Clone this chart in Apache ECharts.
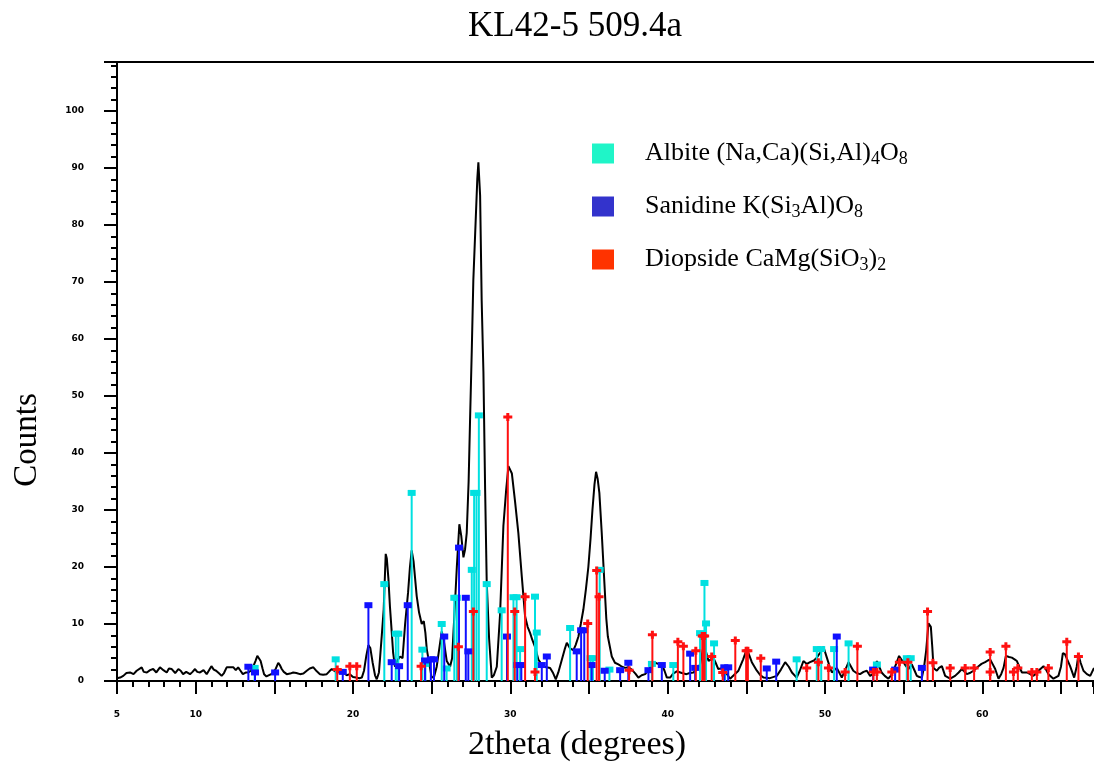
<!DOCTYPE html>
<html>
<head>
<meta charset="utf-8">
<script src="https://cdn.jsdelivr.net/npm/echarts@6/dist/echarts.min.js"></script>
<style>
html,body{margin:0;padding:0;background:#fff;}
#chart{width:1094px;height:764px;}
</style>
</head>
<body>
<div id="chart"></div>
<script>
// ---- Data ----
const titleText = 'KL42-5 509.4a';
const xTitle = '2theta (degrees)';
const yTitle = 'Counts';

// Measured pattern: 2theta positions and counts
const patternX = [5.0,5.2,5.4,5.6,5.83,6.05,6.25,6.57,6.7,6.9,7.1,7.3,7.5,7.73,7.95,8.16,8.3,8.48,8.7,8.9,9.05,9.2,9.4,9.64,9.8,9.96,10.1,10.28,10.5,10.7,10.85,11.0,11.15,11.3,11.5,11.65,11.8,11.97,12.2,12.4,12.55,12.7,12.85,13.0,13.2,13.35,13.5,13.67,13.8,13.92,14.02,14.13,14.25,14.35,14.5,14.62,14.8,14.94,15.1,15.25,15.35,15.47,15.6,15.79,16.0,16.2,16.4,16.63,16.85,17.06,17.25,17.48,17.7,17.9,18.1,18.33,18.5,18.65,18.8,18.97,19.2,19.39,19.6,19.8,20.0,20.2,20.4,20.56,20.7,20.85,20.98,21.1,21.25,21.4,21.51,21.65,21.83,21.95,22.08,22.15,22.25,22.35,22.46,22.55,22.67,22.8,22.99,23.15,23.31,23.5,23.62,23.73,23.85,24.05,24.2,24.37,24.5,24.6,24.69,24.85,25.0,25.15,25.32,25.5,25.64,25.75,25.96,26.17,26.3,26.49,26.6,26.76,26.88,27.02,27.12,27.23,27.35,27.44,27.55,27.65,27.8,27.9,27.97,28.08,28.18,28.29,28.4,28.5,28.65,28.82,28.95,29.14,29.35,29.56,29.73,29.88,29.98,30.1,30.3,30.51,30.73,30.94,31.1,31.26,31.4,31.57,31.79,32.1,32.3,32.53,32.7,32.89,33.05,33.27,33.45,33.59,33.8,34.01,34.15,34.33,34.48,34.64,34.8,34.96,35.1,35.22,35.35,35.45,35.55,35.66,35.81,35.98,36.1,36.2,36.45,36.65,36.87,37.1,37.3,37.5,37.72,37.95,38.14,38.35,38.57,38.8,39.0,39.2,39.4,39.63,39.8,39.95,40.16,40.35,40.58,40.9,41.2,41.4,41.64,41.85,42.06,42.27,42.42,42.6,42.75,42.9,43.05,43.22,43.54,43.75,43.97,44.2,44.5,44.8,45.03,45.15,45.35,45.67,45.9,46.1,46.5,46.94,47.2,47.47,47.7,47.9,48.2,48.4,48.63,48.85,49.05,49.3,49.48,49.7,49.9,50.12,50.3,50.44,50.75,51.07,51.3,51.5,51.8,52.0,52.23,52.45,52.66,52.87,53.08,53.3,53.45,53.6,53.8,54.03,54.2,54.35,54.55,54.71,54.85,54.99,55.15,55.3,55.52,55.7,55.84,56.0,56.16,56.3,56.43,56.58,56.73,56.82,56.9,57.11,57.25,57.43,57.64,57.96,58.27,58.5,58.7,59.02,59.2,59.44,59.76,59.95,60.18,60.35,60.5,60.65,60.82,61.03,61.2,61.35,61.5,61.7,61.88,62.05,62.2,62.35,62.52,62.83,63.05,63.25,63.57,63.89,64.05,64.2,64.52,64.84,65.0,65.12,65.25,65.37,65.58,65.84,66.0,66.11,66.25,66.43,66.65,66.86,67.1];
const patternY = [0.5,0.6,0.9,1.4,1.5,1.2,1.8,2.4,1.6,1.5,1.9,2.1,1.5,2.4,1.9,1.5,2.2,2.1,1.4,2.1,1.8,1.2,1.6,1.2,1.6,2.1,1.6,1.5,1.9,1.2,1.9,2.6,2.0,1.8,1.3,0.9,1.4,2.4,2.4,2.4,1.9,2.4,1.8,1.2,1.5,1.5,1.8,2.6,3.5,4.4,4.0,3.5,2.2,1.2,0.8,0.9,1.2,1.5,2.2,3.2,2.8,2.1,1.6,1.2,1.3,1.5,1.4,1.2,1.3,1.8,2.2,2.4,1.7,1.2,1.1,1.2,1.7,2.1,1.8,1.5,1.6,1.5,1.0,1.2,0.7,0.6,0.5,0.6,1.8,4.5,6.3,5.8,3.2,1.0,0.3,1.5,8.0,12.5,22.3,21.5,18.0,13.0,8.7,5.0,2.5,3.5,4.3,4.0,9.9,15.5,20.0,22.9,21.0,14.9,12.0,10.0,10.5,8.5,5.6,3.0,0.6,0.7,2.5,6.0,8.7,7.5,3.5,2.5,4.0,14.0,20.0,27.5,25.5,21.7,23.0,26.0,35.0,45.7,58.0,70.4,80.9,88.0,91.0,85.2,66.7,54.3,33.4,17.4,7.5,0.6,1.0,2.5,11.8,27.2,33.3,37.7,37.9,36.4,31.5,26.0,18.3,11.3,9.5,8.4,7.2,6.0,3.7,2.5,2.4,2.3,1.5,0.3,1.5,3.7,5.5,6.7,5.7,5.4,6.3,7.8,10.0,12.5,16.0,20.0,25.0,30.0,34.5,36.7,35.5,33.0,26.0,17.2,11.0,7.8,4.3,3.2,2.9,2.5,2.3,2.4,2.0,1.3,0.6,1.0,1.2,2.0,2.9,3.2,3.0,2.9,1.8,0.6,0.6,1.3,1.7,1.4,1.2,1.4,1.5,2.0,2.9,6.0,5.3,3.5,3.8,4.1,3.2,2.1,2.3,1.3,0.4,1.0,1.8,3.8,5.6,4.8,3.3,1.8,1.0,0.6,0.5,0.9,2.0,3.3,2.5,1.5,0.6,1.8,3.5,3.0,3.3,3.6,4.1,5.0,6.0,4.1,2.5,1.5,2.3,0.6,2.0,3.3,1.8,1.4,1.2,1.6,1.8,0.9,1.3,3.5,2.5,1.5,0.9,0.4,1.0,1.8,3.2,4.4,3.8,3.3,2.6,2.1,2.9,1.8,0.9,0.7,0.6,2.5,5.3,10.1,9.5,6.0,2.3,1.8,2.3,2.6,0.9,0.4,0.9,1.5,2.1,1.2,1.4,1.8,2.6,3.0,3.3,3.6,3.8,3.0,2.1,0.4,1.2,2.3,4.4,4.2,4.1,3.8,3.5,2.5,1.5,1.5,1.2,0.9,1.8,2.6,2.0,1.2,0.4,0.9,2.5,4.9,4.7,4.6,2.6,0.6,2.5,4.6,3.2,1.8,1.2,0.9,2.3];

// Reference phase lines (position, intensity)
const albiteX = [13.75,18.9,21.99,22.72,22.88,23.73,24.41,24.6,25.64,25.95,26.44,26.6,27.55,27.7,27.85,28.0,28.5,29.45,30.2,30.4,30.62,31.57,31.68,33.8,35.1,35.25,35.68,36.3,39.0,40.36,42.06,42.34,42.44,42.95,43.65,48.2,49.48,49.76,50.58,51.5,53.3,55.2,55.45];
const albiteY = [2.3,3.8,17.0,8.3,8.3,33.0,5.5,3.0,10.0,2.2,14.6,14.6,19.5,33.0,33.0,46.6,17.0,12.4,14.7,14.7,5.6,14.8,8.5,9.3,4.0,4.0,19.5,2.0,3.0,2.8,8.4,17.2,10.1,6.6,2.3,3.8,5.6,5.6,5.6,6.6,2.9,4.0,4.0];

const sanidineX = [13.35,13.77,15.05,19.35,20.98,22.46,22.93,23.48,24.58,24.95,25.15,25.8,26.74,27.17,27.33,29.79,30.45,30.7,32.0,32.32,34.22,34.5,34.7,35.17,36.0,36.98,37.5,38.78,39.63,41.43,41.75,43.6,43.85,46.3,46.9,50.75,53.06,54.46,56.16];
const sanidineY = [2.5,1.5,1.5,1.6,13.3,3.3,2.6,13.3,3.6,3.8,3.8,7.8,23.4,14.6,5.2,7.8,2.8,2.8,2.8,4.3,5.2,8.9,8.9,2.8,1.8,1.9,3.2,1.9,2.8,4.8,2.3,2.4,2.4,2.2,3.4,7.8,2.0,2.0,2.3];

const diopsideX = [19.0,19.8,20.24,24.33,26.7,27.65,29.84,30.28,30.94,31.57,34.92,35.49,35.64,37.55,39.03,40.65,41.0,41.79,42.2,42.27,42.35,42.8,43.5,44.3,44.99,45.1,45.92,48.84,49.58,50.22,51.28,52.06,53.08,53.3,54.25,54.73,55.27,56.52,56.86,57.96,58.91,59.48,60.5,60.5,61.5,61.98,62.26,63.15,63.47,64.2,65.37,66.11];
const diopsideY = [2.0,2.6,2.6,2.6,6.0,12.2,46.3,12.2,14.8,1.6,10.1,19.4,14.8,1.9,8.1,6.9,6.1,5.3,7.9,7.9,7.9,4.3,1.5,7.1,5.3,5.3,4.0,2.3,3.3,2.3,1.6,6.1,1.6,1.6,1.6,3.3,3.3,12.2,3.2,2.3,2.3,2.3,5.1,1.6,6.1,1.6,2.3,1.6,1.6,2.3,6.9,4.3];

const yTicks = [0,10,20,30,40,50,60,70,80,90,100];
const xLabelTicks = [5,10,20,30,40,50,60];

// ---- Build chart ----
const SERIF = '"Liberation Serif","Times New Roman",serif';
const zip = (a, b) => a.map((v, i) => [v, b[i]]);

const stickColors = { albite: '#00e0e0', sanidine: '#1010ff', diopside: '#ff1010' };
const legendColors = { albite: '#1ff5c8', sanidine: '#3333cc', diopside: '#ff3300' };

function stickRenderer(color, marker) {
  return function (params, api) {
    const x = api.value(0), h = api.value(1);
    const p0 = api.coord([x, 0]);
    const p1 = api.coord([x, h]);
    const children = [{
      type: 'line',
      shape: { x1: p0[0], y1: p0[1], x2: p1[0], y2: p1[1] },
      style: { stroke: color, lineWidth: 2 }
    }];
    if (marker === 'square') {
      children.push({ type: 'rect', shape: { x: p1[0] - 4, y: p1[1] - 3, width: 8, height: 6 }, style: { fill: color } });
    } else {
      const cx = p1[0], cy = p1[1];
      children.push({ type: 'polygon', shape: { points: [
        [cx - 1.5, cy - 4], [cx + 1.5, cy - 4], [cx + 1.5, cy - 1.5], [cx + 4.5, cy - 1.5], [cx + 4.5, cy + 1.5],
        [cx + 1.5, cy + 1.5], [cx + 1.5, cy + 4], [cx - 1.5, cy + 4], [cx - 1.5, cy + 1.5], [cx - 4.5, cy + 1.5],
        [cx - 4.5, cy - 1.5], [cx - 1.5, cy - 1.5]] }, style: { fill: color } });
    }
    return { type: 'group', children };
  };
}

const richLegend = {
  g: { width: 26, fontSize: 26, fontFamily: SERIF, lineHeight: 20 },
  n: { fontSize: 26, fontFamily: SERIF, color: '#000', lineHeight: 20 },
  s: { fontSize: 18, fontFamily: SERIF, color: '#000', lineHeight: 10, padding: [11, 0, 0, 0] }
};
const legendNames = {
  'Albite': '{g| }{n|Albite (Na,Ca)(Si,Al)}{s|4}{n|O}{s|8}',
  'Sanidine': '{g| }{n|Sanidine K(Si}{s|3}{n|Al)O}{s|8}',
  'Diopside': '{g| }{n|Diopside CaMg(SiO}{s|3}{n|)}{s|2}'
};

const chart = echarts.init(document.getElementById('chart'), null, { renderer: 'canvas' });
chart.setOption({
  animation: false,
  backgroundColor: '#fff',
  grid: { left: 117, top: 62, right: 0, bottom: 83, containLabel: false },
  xAxis: [{
    type: 'value', min: 5, max: 67.1, interval: 5,
    axisLine: { show: true, onZero: false, lineStyle: { color: '#000', width: 2 } },
    axisTick: { show: true, length: 13, lineStyle: { color: '#000', width: 2 } },
    minorTick: { show: true, splitNumber: 5, length: 6, lineStyle: { color: '#000', width: 2 } },
    splitLine: { show: false },
    axisLabel: {
      margin: 29, color: '#000', fontSize: 9, fontWeight: 'bold', fontFamily: '"DejaVu Sans"',
      showMaxLabel: false,
      formatter: v => xLabelTicks.includes(v) ? String(v) : ''
    }
  }, {
    type: 'value', position: 'top', min: 5, max: 67.1,
    axisLine: { show: true, onZero: false, lineStyle: { color: '#000', width: 2 } },
    axisTick: { show: false }, axisLabel: { show: false }, splitLine: { show: false }
  }],
  yAxis: {
    type: 'value', min: 0, max: 108.6, interval: 10,
    axisLine: { show: true, onZero: false, lineStyle: { color: '#000', width: 2 } },
    axisTick: { show: true, length: 13, lineStyle: { color: '#000', width: 2 } },
    minorTick: { show: true, splitNumber: 5, length: 6, lineStyle: { color: '#000', width: 2 } },
    splitLine: { show: false },
    axisLabel: {
      margin: 33, color: '#000', fontSize: 9, fontWeight: 'bold', fontFamily: '"DejaVu Sans"',
      showMaxLabel: false,
      formatter: v => yTicks.includes(v) ? String(v) : ''
    }
  },
  legend: {
    orient: 'vertical', left: 587, top: 134, itemWidth: 22, itemHeight: 20, itemGap: 24,
    icon: 'rect', selectedMode: false,
    data: [
      { name: 'Albite', itemStyle: { color: legendColors.albite } },
      { name: 'Sanidine', itemStyle: { color: legendColors.sanidine } },
      { name: 'Diopside', itemStyle: { color: legendColors.diopside } }
    ],
    formatter: name => legendNames[name],
    textStyle: { rich: richLegend, color: '#000' }
  },
  graphic: [
    { type: 'text', x: 575, y: 27, style: { text: titleText, font: '35px ' + SERIF, fill: '#000', textAlign: 'center', textVerticalAlign: 'middle' }, z: 10 },
    { type: 'text', x: 577, y: 745, style: { text: xTitle, font: '34px ' + SERIF, fill: '#000', textAlign: 'center', textVerticalAlign: 'middle' } },
    { type: 'text', x: 27, y: 440, rotation: Math.PI / 2, style: { text: yTitle, font: '33px ' + SERIF, fill: '#000', textAlign: 'center', textVerticalAlign: 'middle' } }
  ],
  series: [
    { name: 'pattern', type: 'line', data: zip(patternX, patternY), showSymbol: false, symbol: 'none',
      lineStyle: { color: '#000', width: 2 }, z: 2, clip: true },
    { name: 'Albite', type: 'custom', data: zip(albiteX, albiteY), color: legendColors.albite,
      renderItem: stickRenderer(stickColors.albite, 'square'), z: 3, clip: true },
    { name: 'Sanidine', type: 'custom', data: zip(sanidineX, sanidineY), color: legendColors.sanidine,
      renderItem: stickRenderer(stickColors.sanidine, 'square'), z: 4, clip: true },
    { name: 'Diopside', type: 'custom', data: zip(diopsideX, diopsideY), color: legendColors.diopside,
      renderItem: stickRenderer(stickColors.diopside, 'plus'), z: 5, clip: true }
  ]
});
</script>
</body>
</html>
